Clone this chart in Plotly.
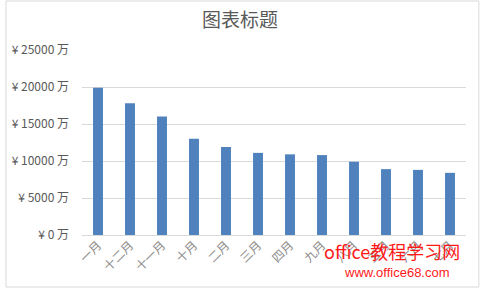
import plotly.graph_objects as go

categories = ["一月", "十二月", "十一月", "十月", "二月", "三月", "四月", "九月", "八月", "五月", "六月", "七月"]
values = [19900, 17800, 16000, 13000, 11900, 11100, 10900, 10800, 9900, 8900, 8800, 8400]
tick_vals = [0, 5000, 10000, 15000, 20000, 25000]
tick_text = ["¥ %d 万" % v for v in tick_vals]

fig = go.Figure()
fig.add_trace(go.Bar(x=categories, y=values, marker_color="#4F81BD", marker_line_width=0))

fig.update_layout(
    width=480, height=288,
    margin=dict(l=77, r=14, t=50, b=53),
    paper_bgcolor="white", plot_bgcolor="white",
    bargap=0.69,
    showlegend=False,
    font=dict(family="Noto Sans CJK SC, Microsoft YaHei, sans-serif", color="#595959", size=12),
    title=dict(text="图表标题", x=0.5, xanchor="center", y=0.93, yanchor="middle",
               font=dict(size=19, color="#595959")),
    xaxis=dict(tickangle=-45, showgrid=False, showline=False, ticks="",
               tickfont=dict(size=12, color="#8C8C8C")),
    yaxis=dict(range=[0, 25000], tickvals=tick_vals, ticktext=tick_text,
               showgrid=True, gridcolor="#D9D9D9", gridwidth=1, zeroline=True,
               zerolinecolor="#D9D9D9", zerolinewidth=1, showline=False, ticks="",
               ticklabelstandoff=12,
               tickfont=dict(size=12, color="#595959")),
    shapes=[dict(type="rect", xref="paper", yref="paper", x0=-77/389, x1=1+13/389,
                 y0=-52/185, y1=1+49/185, line=dict(color="#D9D9D9", width=1))],
    annotations=[
        dict(text="office教程学习网", xref="paper", yref="paper", x=0.99, y=-0.086,
             xanchor="right", yanchor="middle", showarrow=False,
             font=dict(size=18, color="#FF1A1A", family="Noto Sans CJK SC, sans-serif")),
        dict(text="www.office68.com", xref="paper", yref="paper", x=0.964, y=-0.2,
             xanchor="right", yanchor="middle", showarrow=False,
             font=dict(size=13, color="#FF1A1A", family="Liberation Sans, Arial, sans-serif")),
    ],
)

fig.write_html("out.html")
